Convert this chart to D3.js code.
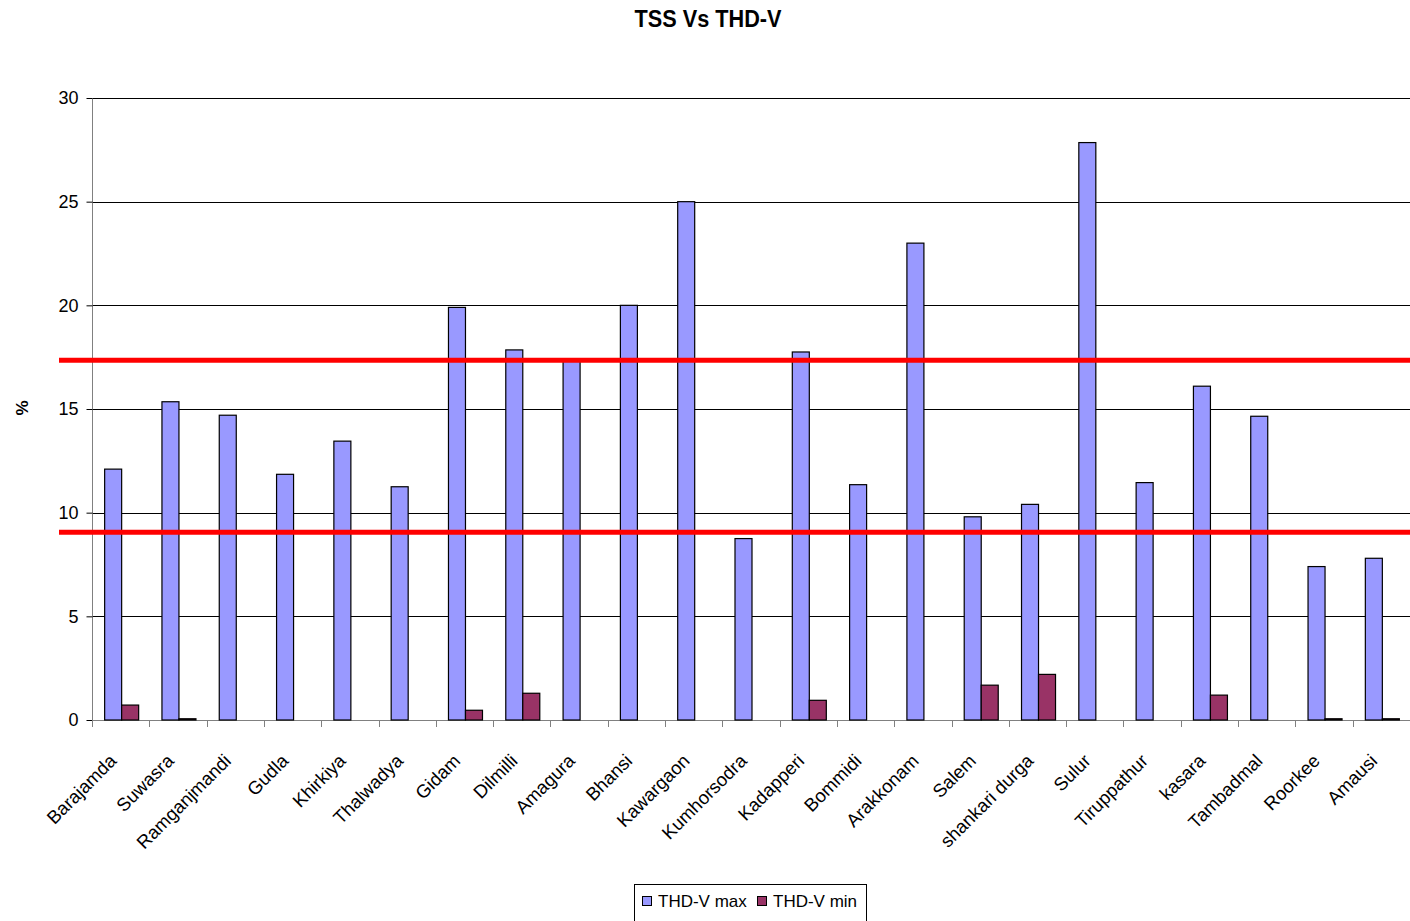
<!DOCTYPE html>
<html>
<head>
<meta charset="utf-8">
<script src="https://cdn.jsdelivr.net/npm/d3@7"></script>
<style>
  body { margin: 0; background: #fff; }
  svg { display: block; font-family: "Liberation Sans", Arial, sans-serif; }
</style>
</head>
<body>
<svg id="canvas" width="1410" height="921"></svg>
<script>
let stations = ['Barajamda','Suwasra','Ramganjmandi','Gudla','Khirkiya','Thalwadya','Gidam','Dilmilli','Amagura','Bhansi','Kawargaon','Kumhorsodra','Kadapperi','Bommidi','Arakkonam','Salem','shankari durga','Sulur','Tiruppathur','kasara','Tambadmal','Roorkee','Amausi']
let thdMax = [12.1, 15.35, 14.7, 11.85, 13.45, 11.25, 19.9, 17.85, 17.3, 20.0, 25.0, 8.75, 17.75, 11.35, 23.0, 9.8, 10.4, 27.85, 11.45, 16.1, 14.65, 7.4, 7.8]
let thdMin = [0.72, 0.06, 0, 0, 0, 0, 0.47, 1.29, 0, 0, 0, 0, 0.95, 0, 0, 1.68, 2.2, 0, 0, 1.2, 0, 0.06, 0.06]
let seriesNames = ['THD-V max', 'THD-V min']
let seriesColors = ['#9999ff', '#993366']
let yTicks = [0, 5, 10, 15, 20, 25, 30]
let limitLines = [17.35, 9.05]

let canvas = d3.select('#canvas')

let plotLeft = 92, plotRight = 1410, plotTop = 98, plotBottom = 720

let xScale = d3.scaleBand().domain(stations).range([plotLeft, plotRight]).padding(0)
let xInner = d3.scaleBand().domain(seriesNames).range([0, xScale.bandwidth()]).paddingInner(0).paddingOuter(0.685)
let yScale = d3.scaleLinear().domain([0, 30]).range([plotBottom, plotTop])

// title
canvas.append('text')
      .attr('x', 708)
      .attr('y', 27)
      .attr('text-anchor', 'middle')
      .attr('font-weight', 'bold')
      .attr('font-size', 23)
      .attr('textLength', 147)
      .attr('lengthAdjust', 'spacingAndGlyphs')
      .text('TSS Vs THD-V')

// gridlines
canvas.append('g')
      .selectAll('line')
      .data(yTicks.filter(t => t > 0))
      .enter()
      .append('line')
      .attr('x1', plotLeft)
      .attr('x2', plotRight)
      .attr('y1', d => Math.round(yScale(d)) + 0.5)
      .attr('y2', d => Math.round(yScale(d)) + 0.5)
      .attr('stroke', '#000')
      .attr('stroke-width', 1)

// y axis
let yAxis = d3.axisLeft(yScale).tickValues(yTicks).tickSize(6).tickPadding(8)
let yG = canvas.append('g')
      .attr('transform', 'translate(' + (plotLeft + 0.5) + ',0)')
      .call(yAxis)
yG.select('.domain').attr('stroke', '#808080').attr('d', 'M0,' + plotTop + 'V' + (plotBottom + 5))
yG.selectAll('.tick line').attr('stroke', '#000')
yG.selectAll('.tick text').attr('font-size', 18).attr('fill', '#000').attr('font-family', '"Liberation Sans", Arial, sans-serif')

// x axis
let xAxisLine = canvas.append('g')
xAxisLine.append('line')
      .attr('x1', plotLeft).attr('x2', plotRight)
      .attr('y1', plotBottom + 0.5).attr('y2', plotBottom + 0.5)
      .attr('stroke', '#808080')
xAxisLine.selectAll('.xtick')
      .data(stations)
      .enter()
      .append('line')
      .attr('class', 'xtick')
      .attr('x1', d => Math.round(xScale(d)) + 0.5)
      .attr('x2', d => Math.round(xScale(d)) + 0.5)
      .attr('y1', plotBottom)
      .attr('y2', plotBottom + 7)
      .attr('stroke', '#808080')

// bars
let groups = canvas.append('g')
      .selectAll('g')
      .data(stations)
      .enter()
      .append('g')
      .attr('transform', d => 'translate(' + (xScale(d) + 1) + ',0)')

groups.selectAll('rect')
      .data((d, i) => [
          {series: seriesNames[0], value: thdMax[i], color: seriesColors[0]},
          {series: seriesNames[1], value: thdMin[i], color: seriesColors[1]}
      ].filter(b => b.value > 0))
      .enter()
      .append('rect')
      .attr('x', b => xInner(b.series))
      .attr('y', b => yScale(b.value))
      .attr('width', xInner.bandwidth())
      .attr('height', b => plotBottom - yScale(b.value))
      .attr('fill', b => b.color)
      .attr('stroke', '#000')
      .attr('stroke-width', 1.2)

// x labels
canvas.append('g')
      .selectAll('text')
      .data(stations)
      .enter()
      .append('text')
      .attr('transform', d => 'translate(' + (xScale(d) + xScale.bandwidth() / 2 - 3) + ',762) rotate(-45)')
      .attr('text-anchor', 'end')
      .attr('font-size', 18.5)
      .text(d => d)

// red limit lines
canvas.append('g')
      .selectAll('line')
      .data(limitLines)
      .enter()
      .append('line')
      .attr('x1', 59)
      .attr('x2', plotRight)
      .attr('y1', d => yScale(d))
      .attr('y2', d => yScale(d))
      .attr('stroke', '#ff0000')
      .attr('stroke-width', 5)

// y label
canvas.append('text')
      .attr('transform', 'translate(28,408) rotate(-90)')
      .attr('text-anchor', 'middle')
      .attr('font-weight', 'bold')
      .attr('font-size', 17)
      .text('%')

// legend
let legend = canvas.append('g')
legend.append('rect')
      .attr('x', 634.5).attr('y', 884.5)
      .attr('width', 232).attr('height', 50)
      .attr('fill', '#fff')
      .attr('stroke', '#000')
let legendX = [642, 757]
seriesNames.forEach((name, i) => {
    legend.append('rect')
          .attr('x', legendX[i] + 0.5).attr('y', 896.5)
          .attr('width', 9).attr('height', 9)
          .attr('fill', seriesColors[i])
          .attr('stroke', '#000')
    legend.append('text')
          .attr('x', legendX[i] + 16)
          .attr('y', 907)
          .attr('font-size', 17)
          .text(name)
})
</script>
</body>
</html>
